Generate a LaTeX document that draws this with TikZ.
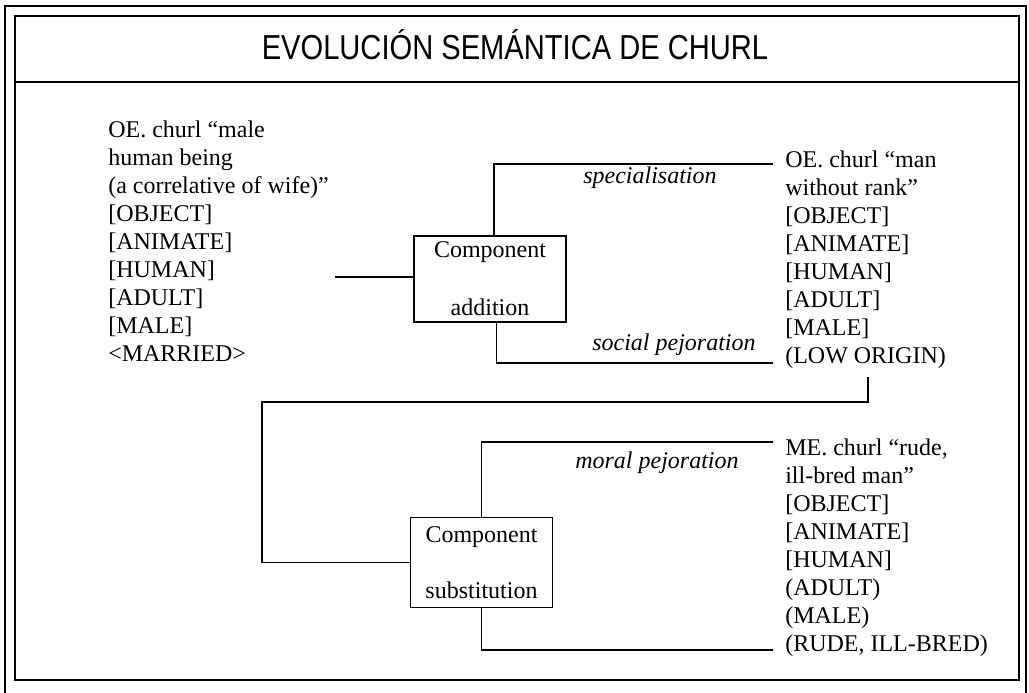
\documentclass[tikz,border=0pt]{standalone}
\usepackage{fontspec}
\setmainfont{Liberation Serif}
\newfontfamily\titlefont[FakeStretch=0.84]{Liberation Sans}
\usetikzlibrary{positioning}
\tikzset{
  featlist/.style={anchor=north west, inner sep=0pt, align=left, font=\fontsize{18}{21}\selectfont},
  procbox/.style={draw, line width=0.8pt, align=center, inner sep=0pt, font=\fontsize{18}{21}\selectfont},
  changelbl/.style={anchor=base west, inner sep=0pt, font=\fontsize{18}{21}\selectfont\itshape},
  link/.style={line width=0.8pt},
  frameline/.style={line width=1.5pt},
}
\begin{document}
\begin{tikzpicture}[x=0.75pt, y=-0.75pt]
                   \useasboundingbox (0,0) rectangle (1029,693);
                   \fill[white] (0,0) rectangle (1029,693);

                   \draw[line width=1pt] (5,693) -- (5,6) -- (1026,6) -- (1026,693);
                   \draw[frameline] (15,16) rectangle (1019,680);
                   \draw[frameline] (15,82) -- (1019,82);

                   \node[anchor=base, inner sep=0pt, font=\titlefont\fontsize{26}{30}\selectfont] (title) at (515,59) {EVOLUCIÓN SEMÁNTICA DE CHURL};

                   \node[featlist] (oemale) at (108,121) {OE. churl “male\\human being\\(a correlative of wife)”\\{[OBJECT]}\\{[ANIMATE]}\\{[HUMAN]}\\{[ADULT]}\\{[MALE]}\\<MARRIED>};
                   \node[featlist] (oerank) at (785,151) {OE. churl “man\\without rank”\\{[OBJECT]}\\{[ANIMATE]}\\{[HUMAN]}\\{[ADULT]}\\{[MALE]}\\(LOW ORIGIN)};
                   \node[featlist] (merude) at (785,439) {ME. churl “rude,\\ill-bred man”\\{[OBJECT]}\\{[ANIMATE]}\\{[HUMAN]}\\(ADULT)\\(MALE)\\(RUDE, ILL-BRED)};

                   \node[procbox, minimum width=114pt, minimum height=64.5pt] (addbox) at (490,279) {Component\\[22.5pt]addition};
                   \node[procbox, minimum width=106pt, minimum height=68pt] (subbox) at (481.5,562.5) {Component\\[21pt]substitution};

                   \coordinate (oeend) at (335,277);
                   \coordinate (specend) at (773,164);
                   \coordinate (socend) at (773,363);
                   \coordinate (lowend) at (868,377);
                   \coordinate (turn) at (262,402);
                   \coordinate (moralend) at (773,442);
                   \coordinate (rudeend) at (773,650);

                   \draw[link] (oeend) -- (oeend -| addbox.west);
                   \draw[link] ([xshift=3pt]addbox.north) |- (specend);
                   \draw[link] ([xshift=5pt]addbox.south) |- (socend);
                   \draw[link] (lowend) |- (turn) |- (subbox.west);
                   \draw[link] (subbox.north) |- (moralend);
                   \draw[link] (subbox.south) |- (rudeend);

                   \node[changelbl] (spec) at (583,183) {specialisation};
                   \node[changelbl] (soc) at (592,350) {social pejoration};
                   \node[changelbl] (moral) at (575,468) {moral pejoration};
\end{tikzpicture}
\end{document}
